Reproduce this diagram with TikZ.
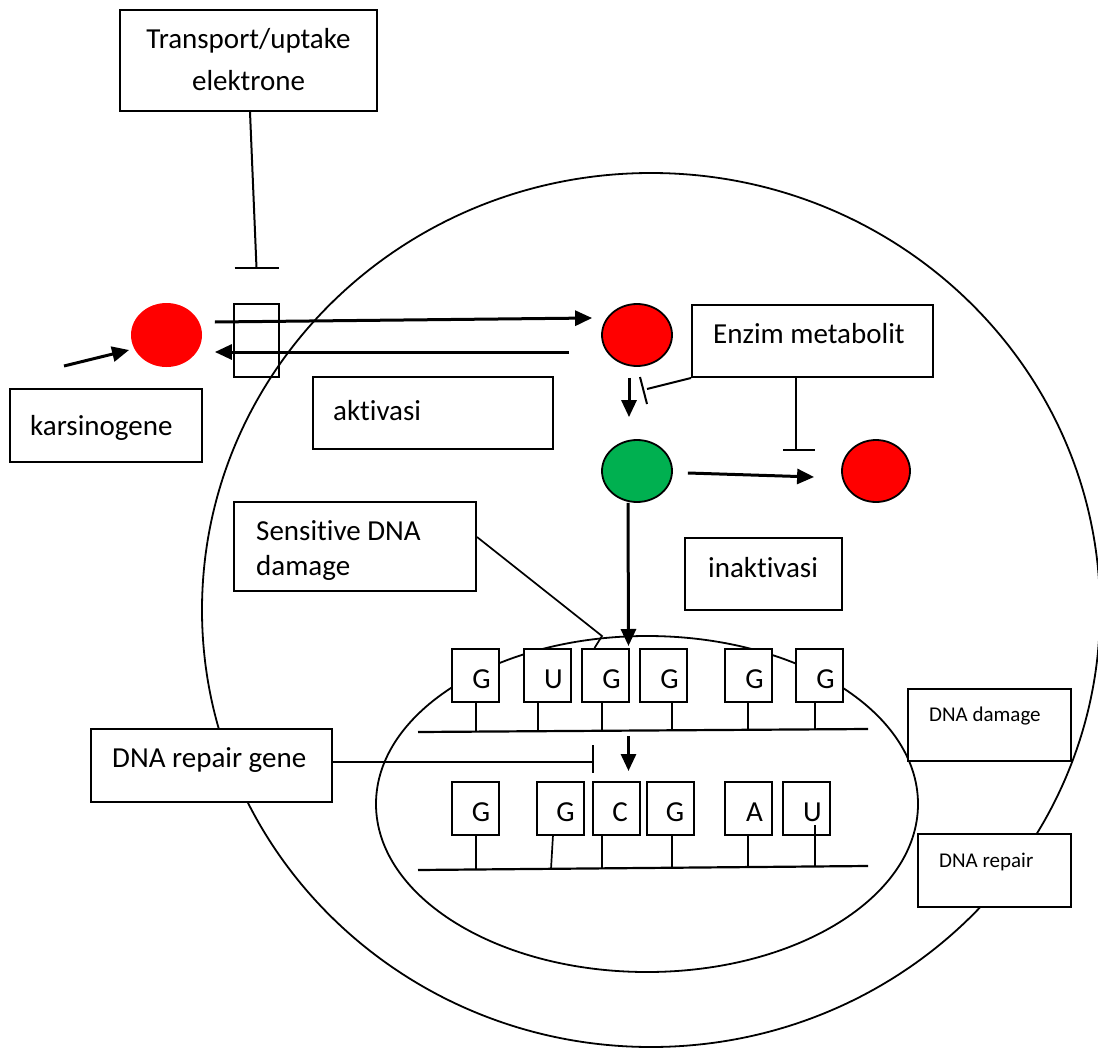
\documentclass[tikz,border=0pt]{standalone}
\usepackage{fontspec}
\setmainfont{Carlito}[Ligatures=NoCommon]
\usetikzlibrary{arrows.meta,shapes.geometric}
\newcommand\fbig{\fontsize{29pt}{41pt}\selectfont}
\newcommand\fsens{\fontsize{29pt}{35pt}\selectfont}
\newcommand\fsmall{\fontsize{21pt}{25pt}\selectfont}
\definecolor{cred}{HTML}{FF0000}
\definecolor{cgreen}{HTML}{00B050}
\begin{document}
\begin{tikzpicture}[x=1pt,y=-1pt,
  box/.style={draw, fill=white, line width=2pt, inner sep=0pt},
  lbl/.style={font=\fbig, anchor=base west, inner sep=0pt},
  slbl/.style={font=\fsmall, anchor=base west, inner sep=0pt},
  nuc/.style={draw, fill=white, line width=2pt, inner sep=0pt, minimum width=47pt, minimum height=53pt, font=\fbig, text height=25pt, text depth=0pt},
  arr/.style={line width=3pt, -{Triangle[length=17pt,width=15pt]}},
  inh/.style={line width=2pt},
  stem/.style={line width=1.7pt},
  blob/.style={ellipse, inner sep=0pt, line width=1.8pt},
  strand/.style={line width=2.2pt}
]
\useasboundingbox (0,0) rectangle (1098,1049);
\clip (0,0) rectangle (1098,1049);
\fill[white] (0,0) rectangle (1098,1049);

% cell and nucleus
\draw[line width=1.8pt] (651,610) ellipse [x radius=449pt, y radius=437pt];
\draw[line width=1.8pt] (647,804) ellipse [x radius=271pt, y radius=168pt];

% boxes
\node[box, minimum width=257pt, minimum height=101pt] (trans) at (248.5,60.5) {};
\node[font=\fbig, align=center, anchor=base, inner sep=0pt] (transT) at (248.5,90) {Transport/uptake\\elektrone};
\node[draw, line width=2pt, inner sep=0pt, minimum width=45pt, minimum height=73pt] (chan) at (256.5,340.5) {};
\node[box, minimum width=192pt, minimum height=73pt] (kars) at (106,425.5) {};
\node[lbl] (karsT) at (30,435) {karsinogene};
\node[box, minimum width=240pt, minimum height=72pt] (akt) at (433,413) {};
\node[lbl] (aktT) at (333,420) {aktivasi};
\node[box, minimum width=241pt, minimum height=72pt] (enz) at (812.5,341) {};
\node[lbl] (enzT) at (713,343) {Enzim metabolit};
\node[box, minimum width=242pt, minimum height=89pt] (sens) at (355,546.5) {};
\node[lbl, font=\fsens, align=left] (sensT) at (256,575) {Sensitive DNA\\damage};
\node[box, minimum width=157pt, minimum height=72pt] (inak) at (763.5,574) {};
\node[lbl] (inakT) at (708,577) {inaktivasi};
\node[box, minimum width=241pt, minimum height=73pt] (drg) at (211.5,765.5) {};
\node[lbl] (drgT) at (112,767) {DNA repair gene};
\node[box, minimum width=163pt, minimum height=72pt] (dd) at (989.5,725) {};
\node[slbl] (ddT) at (929,721) {DNA damage};
\node[box, minimum width=153pt, minimum height=73pt] (dr) at (994.5,870.5) {};
\node[slbl] (drT) at (939,867) {DNA repair};

% molecules
\node[blob, fill=cred, minimum width=71pt, minimum height=64pt] (redL) at (166.5,335) {};
\node[blob, draw, fill=cred, minimum width=70pt, minimum height=62pt] (redT) at (637,335) {};
\node[blob, draw, fill=cgreen, minimum width=70pt, minimum height=62pt] (grn) at (637,471) {};
\node[blob, draw, fill=cred, minimum width=68pt, minimum height=62pt] (redR) at (876,471) {};

% nucleotides, damaged strand
\node[nuc] (t1) at (475.5,675.5) {\hspace*{12pt}G};
\node[nuc] (t2) at (547.5,675.5) {\hspace*{12pt}U};
\node[nuc] (t3) at (605.5,675.5) {\hspace*{12pt}G};
\node[nuc] (t4) at (663.5,675.5) {\hspace*{12pt}G};
\node[nuc] (t5) at (748.5,675.5) {\hspace*{12pt}G};
\node[nuc] (t6) at (819.5,675.5) {\hspace*{12pt}G};
\draw[strand] (418,732) coordinate (s1a) -- (868,729) coordinate (s1b);
\draw[stem] (476,702) -- (476,731);
\draw[stem] (538,702) -- (538,731);
\draw[stem] (602,702) -- (602,731);
\draw[stem] (672,702) -- (672,730);
\draw[stem] (748,702) -- (748,730);
\draw[stem] (815,702) -- (815,730);

% nucleotides, repaired strand
\node[nuc] (b1) at (475.5,808.5) {\hspace*{11pt}G};
\node[nuc] (b2) at (560,808.5) {\hspace*{11pt}G};
\node[nuc] (b3) at (616.5,808.5) {\hspace*{7pt}C};
\node[nuc] (b4) at (670.5,808.5) {\hspace*{9pt}G};
\node[nuc] (b5) at (748.5,808.5) {\hspace*{12pt}A};
\node[nuc] (b6) at (806.5,808.5) {\hspace*{12pt}U};
\draw[strand] (418,870) coordinate (s2a) -- (868,866) coordinate (s2b);
\draw[stem] (476,835) -- (476,869);
\draw[stem] (553,835) -- (551,869);
\draw[stem] (602,835) -- (602,868);
\draw[stem] (672,835) -- (672,868);
\draw[stem] (748,835) -- (748,867);
\draw[stem] (815,825) -- (815,867);

% arrows
\coordinate (kin) at (64,366);
\draw[arr] (kin) -- ([shift={(-1,15)}]redL.west);
\draw[arr] ([shift={(12,-13)}]redL.east) -- ([shift={(-9,-17)}]redT.west);
\draw[arr] ([shift={(-32,17)}]redT.west) -- ([shift={(12,17)}]redL.east);
\draw[arr] ([shift={(-8,11)}]redT.south) -- ([shift={(-8,-22)}]grn.north);
\draw[arr] ([shift={(15,2)}]grn.east) -- ([shift={(-27,6)}]redR.west);
\draw[arr] ([shift={(-9,0)}]grn.south) -- ([shift={(23,-2)}]t3.north);
\draw[arr] ([shift={(-35,33)}]t4.south) -- ([shift={(12,-10)}]b3.north);

% inhibitions and links
\draw[inh] ([xshift=1.5pt]trans.south) -- ([yshift=35pt]chan.north) coordinate (tb);
\draw[inh] ([xshift=-22pt]tb) -- ([xshift=22pt]tb);
\draw[inh] ([xshift=-16.5pt]enz.south) -- ++(0,72) coordinate (eb);
\draw[inh] ([xshift=-13pt]eb) -- ([xshift=19pt]eb);
\draw[inh] (enz.south west) -- (647,389) coordinate (ea);
\draw[inh] (640,377) -- (647,404);
\draw[inh] ([yshift=3.5pt]drg.east) -- (593,762) coordinate (db);
\draw[inh] ([yshift=17pt]db) -- ([yshift=-11pt]db);
\draw[line width=1.7pt] ([yshift=9.5pt]sens.east) -- (602,636) -- ([shift={(-11,0)}]t3.north);
\end{tikzpicture}
\end{document}
